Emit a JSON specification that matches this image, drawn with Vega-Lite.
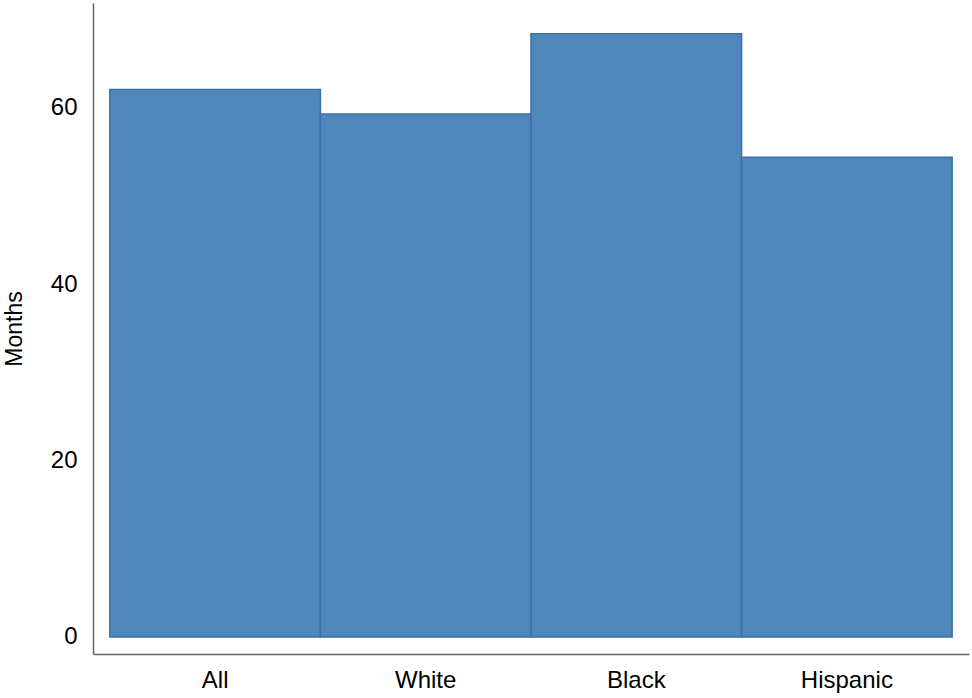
{
  "$schema": "https://vega.github.io/schema/vega-lite/v6.json",
  "autosize": "none",
  "width": 876,
  "height": 651,
  "padding": {"left": 93, "top": 3, "right": 3, "bottom": 44},
  "background": "white",
  "config": {
    "view": {"stroke": null},
    "font": "Liberation Sans",
    "axis": {"grid": false, "ticks": false, "domainColor": "#666666", "domainWidth": 1.5, "labelColor": "#000000", "labelFontSize": 24, "titleFontSize": 23, "titleFontWeight": "normal", "titleColor": "#000000"}
  },
  "data": {
    "values": [
      {"group": "All", "months": 62.1},
      {"group": "White", "months": 59.3},
      {"group": "Black", "months": 68.4},
      {"group": "Hispanic", "months": 54.4}
    ]
  },
  "mark": {"type": "bar", "fill": "#5087bb", "stroke": "#3a6fab", "strokeWidth": 1.5},
  "encoding": {
    "x": {
      "field": "group",
      "type": "nominal",
      "sort": null,
      "title": null,
      "scale": {"paddingInner": 0, "paddingOuter": 0.08},
      "axis": {"labelAngle": 0, "labelPadding": 14}
    },
    "y": {
      "field": "months",
      "type": "quantitative",
      "title": "Months",
      "scale": {"domain": [-1.93, 71.9], "nice": false, "zero": false},
      "axis": {"values": [0, 20, 40, 60], "labelPadding": 16, "titlePadding": 24}
    },
    "y2": {"datum": 0}
  }
}
